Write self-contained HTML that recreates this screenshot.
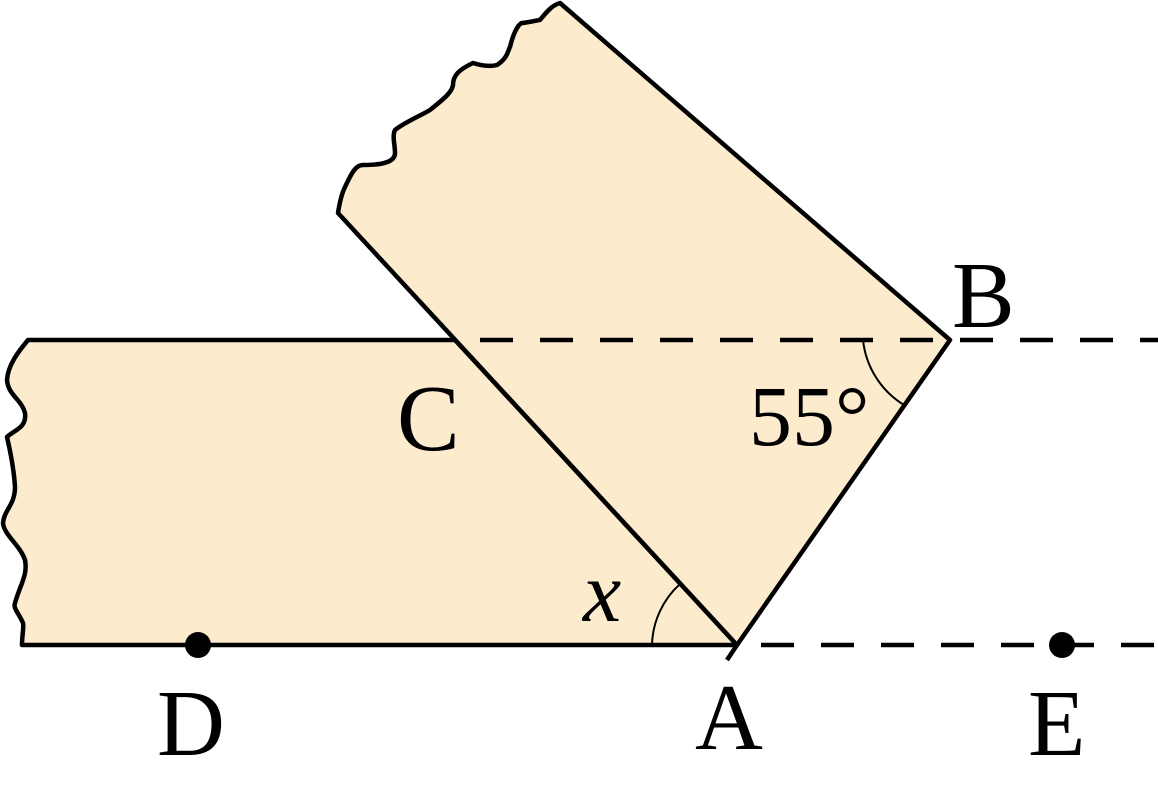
<!DOCTYPE html>
<html><head><style>html,body{margin:0;padding:0;background:#fff}svg{display:block}
.lbl{font-family:"Liberation Serif","DejaVu Serif",serif;fill:#000}</style></head>
<body>
<svg width="1158" height="790" viewBox="0 0 1158 790" xmlns="http://www.w3.org/2000/svg">
<g fill="#FDEBCE" stroke="#000" stroke-width="4.5" stroke-linejoin="round">
<path d="M28,340 L455,340 L737,645 L22,645 C22,635 24,628 23,623 C18,612 13,608 15,603 C20,585 28,575 25,560 C20,545 4,535 3,523 C4,510 15,505 15,487 C14,470 10,450 7,437 C14,430 27,428 25,413 C22,400 8,395 7,380 C8,365 18,352 28,340 Z"/>
<path d="M560,3 L950,340 L737,645 L338,213 C340,200 342,193 345,187 C352,172 356,165 363,165 C380,165 395,163 395,153 C395,145 392,136 395,130 C405,122 422,115 430,110 C445,98 452,92 453,85 C453,76 458,70 473,63 C486,67 493,66 497,65 C508,58 508,50 510,47 C514,30 520,22 523,23 C536,21 538,20 540,20 C548,10 553,5 560,3 Z"/>
</g>
<line x1="737" y1="645" x2="727" y2="660" stroke="#000" stroke-width="4.5"/>
<g stroke="#000" stroke-width="4.5" stroke-dasharray="33,27">
<line x1="480" y1="340" x2="1158" y2="340"/>
<line x1="761" y1="645" x2="1158" y2="645"/>
</g>
<g fill="none" stroke="#000" stroke-width="2">
<path d="M652,645 A85,85 0 0 1 680,584"/>
<path d="M863,340 A87,87 0 0 0 904,405"/>
</g>
<circle cx="198" cy="645" r="13" fill="#000"/>
<circle cx="1062" cy="645" r="13" fill="#000"/>
<text class="lbl" x="952" y="327" style="font-size:94px">B</text>
<text class="lbl" x="397" y="450" style="font-size:94px">C</text>
<text class="lbl" x="749" y="445" style="font-size:86px">55°</text>
<text class="lbl" x="583" y="621" style="font-size:86px;font-style:italic">x</text>
<text class="lbl" x="157" y="755" style="font-size:94px">D</text>
<text class="lbl" x="695" y="749" style="font-size:94px">A</text>
<text class="lbl" x="1028" y="755" style="font-size:94px">E</text>
</svg>
</body></html>
